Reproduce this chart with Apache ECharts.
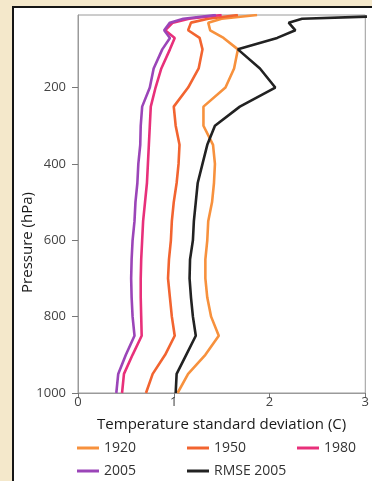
<!DOCTYPE html>
<html>
<head>
<meta charset="utf-8">
<script src="https://cdn.jsdelivr.net/npm/echarts@6/dist/echarts.min.js"></script>
<style>
html,body{margin:0;padding:0;width:372px;height:481px;overflow:hidden;background:#f4e8cb;}
#panel{position:absolute;left:12px;top:6px;width:400px;height:500px;background:#fff;border:2px solid #151515;box-sizing:border-box;}
#chart{position:absolute;left:0;top:0;width:372px;height:481px;}
</style>
</head>
<body>
<div id="panel"></div>
<div id="chart"></div>
<script>
// Pressure levels (hPa)
const levels = [10,20,30,50,70,100,150,200,250,300,350,400,450,500,550,600,650,700,750,800,850,900,950,1000];
// Temperature standard deviation (C)
const s1920 = [1.87,1.50,1.36,1.38,1.52,1.67,1.63,1.54,1.31,1.31,1.41,1.43,1.42,1.40,1.36,1.35,1.33,1.33,1.35,1.39,1.47,1.33,1.15,1.04];
const s1950 = [1.67,1.36,1.18,1.15,1.27,1.30,1.26,1.15,1.00,1.02,1.06,1.05,1.03,1.00,0.98,0.97,0.95,0.94,0.96,0.98,1.01,0.91,0.78,0.71];
const s1980 = [1.50,1.16,0.99,0.91,1.01,0.96,0.87,0.81,0.76,0.75,0.74,0.73,0.72,0.70,0.68,0.67,0.66,0.655,0.655,0.66,0.665,0.57,0.48,0.46];
const s2005 = [1.44,1.10,0.96,0.90,0.96,0.88,0.79,0.75,0.67,0.655,0.65,0.63,0.62,0.60,0.59,0.57,0.56,0.555,0.56,0.57,0.59,0.50,0.42,0.40];
const rmse2005 = [3.5,2.34,2.20,2.27,2.08,1.67,1.90,2.06,1.69,1.43,1.35,1.30,1.25,1.23,1.21,1.20,1.17,1.165,1.18,1.20,1.23,1.13,1.03,1.02];
const seriesNames = ['1920','1950','1980','2005','RMSE 2005'];
const yTicks = [200,400,600,800,1000];
const xTicks = [0,1,2,3];

const colors = ['#f7913d','#f26430','#e8307a','#9b45b8','#222222'];
const allData = [s1920,s1950,s1980,s2005,rmse2005];
const font = '"Open Sans", sans-serif';

const chart = echarts.init(document.getElementById('chart'), null, {renderer:'canvas'});
const legendPos = [[77,440],[187,440],[297,440],[77,463],[187,463]];

chart.setOption({
  animation:false,
  backgroundColor:'transparent',
  grid:{left:78,top:15,right:2,bottom:88,show:true,borderColor:'#9a9a9a',borderWidth:1,backgroundColor:'transparent'},
  xAxis:{
    type:'value',min:xTicks[0],max:xTicks[xTicks.length-1],interval:1,
    axisLine:{show:true,lineStyle:{color:'#9a9a9a',width:1}},
    axisTick:{show:true,length:5,lineStyle:{color:'#777'}},
    axisLabel:{color:'#444',fontSize:13,fontFamily:font,margin:3,formatter:v=>String(v)},
    splitLine:{show:false},
    name:'Temperature standard deviation (C)',nameLocation:'middle',nameGap:24,
    nameTextStyle:{color:'#1a1a1a',fontSize:15,fontFamily:font}
  },
  yAxis:{
    type:'value',inverse:true,min:10,max:1000,
    axisLine:{show:true,lineStyle:{color:'#9a9a9a',width:1}},
    axisTick:{show:true,length:6,customValues:yTicks,lineStyle:{color:'#777'}},
    axisLabel:{color:'#444',fontSize:13,fontFamily:font,margin:12,customValues:yTicks,formatter:v=>String(v)},
    splitLine:{show:false}
  },
  graphic:[{
    type:'text',left:20,top:192,rotation:Math.PI/2,
    style:{text:'Pressure (hPa)',fontSize:15,fontFamily:font,fill:'#1a1a1a'}
  }],
  legend: seriesNames.map((n,i)=>({
    data:[n],left:legendPos[i][0],top:legendPos[i][1],icon:'rect',itemWidth:22,itemHeight:3,
    padding:0,textStyle:{fontSize:14,fontFamily:font,color:'#333',lineHeight:16}
  })),
  series: seriesNames.map((n,i)=>({
    name:n,type:'line',symbol:'none',color:colors[i],
    lineStyle:{width:2.6,color:colors[i]},
    data: levels.map((p,k)=>[allData[i][k],p])
  }))
});
</script>
</body>
</html>
